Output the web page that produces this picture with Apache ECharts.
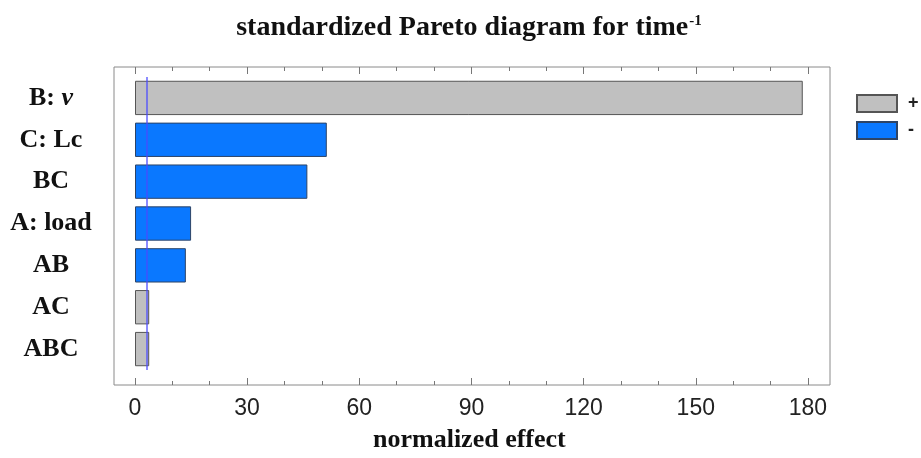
<!DOCTYPE html>
<html>
<head>
<meta charset="utf-8">
<script src="https://cdn.jsdelivr.net/npm/echarts@6/dist/echarts.min.js"></script>
<style>html,body{margin:0;padding:0;background:#fff}#c{width:921px;height:458px}</style>
</head>
<body>
<div id="c"></div>
<script>
// ---- data ----
const categories = ['B: v', 'C: Lc', 'BC', 'A: load', 'AB', 'AC', 'ABC'];
const effects = [178.6, 51.3, 46.1, 15.0, 13.6, 3.8, 3.8];
const signs = ['+', '-', '-', '-', '-', '+', '+'];
const referenceLine = 3.1;
const majorTicks = [0, 30, 60, 90, 120, 150, 180];
const minorTicks = [10, 20, 40, 50, 70, 80, 100, 110, 130, 140, 160, 170];
const titleText = 'standardized Pareto diagram for time';
const titleSup = '-1';
const xAxisName = 'normalized effect';

const posData = effects.map((v, i) => signs[i] === '+' ? v : null);
const negData = effects.map((v, i) => signs[i] === '-' ? v : null);

const serif = "'Liberation Serif', 'Times New Roman', serif";
const sans = "'Liberation Sans', Arial, sans-serif";
const tickColor = '#777';

// frame axis range (frame extends a bit beyond 0..180)
const frameMin = -5.6, frameMax = 185.9;

const chart = echarts.init(document.getElementById('c'), null, {renderer: 'canvas'});
chart.setOption({
  animation: false,
  backgroundColor: '#fff',
  title: {
    text: '{a|' + titleText + '}{s|' + titleSup + '}',
    left: 464, top: 9, textAlign: 'center',
    textStyle: {
      rich: {
        a: {fontFamily: serif, fontWeight: 'bold', fontSize: 28, color: '#111'},
        s: {fontFamily: serif, fontWeight: 'bold', fontSize: 15, color: '#111', verticalAlign: 'top', padding: [0, 0, 12, 1]}
      }
    }
  },
  legend: {
    orient: 'vertical', left: 856, top: 94, padding: 0,
    itemWidth: 40, itemHeight: 17, itemGap: 8,
    icon: 'rect',
    data: ['+', '-'],
    textStyle: {fontFamily: sans, fontSize: 18, fontWeight: 'bold', color: '#222', padding: [0, 0, 0, 6]}
  },
  graphic: [{
    type: 'text', left: 474 - 101, top: 427,
    style: {text: xAxisName, font: 'bold 26px ' + serif, fill: '#111'}
  }],
  grid: [
    {left: 114, right: 91, top: 67, bottom: 73, show: true, borderColor: '#8a8a8a', borderWidth: 1, backgroundColor: 'transparent'},
    {left: 135, right: 113, top: 77, bottom: 88}
  ],
  xAxis: [
    {gridIndex: 0, type: 'value', position: 'bottom', min: frameMin, max: frameMax,
      axisLine: {show: false}, splitLine: {show: false},
      axisTick: {show: true, inside: true, length: 7, customValues: majorTicks, lineStyle: {color: tickColor}},
      axisLabel: {show: true, customValues: majorTicks, margin: 12, fontFamily: sans, fontSize: 23, color: '#222'}},
    {gridIndex: 0, type: 'value', position: 'bottom', min: frameMin, max: frameMax,
      axisLine: {show: false}, splitLine: {show: false},
      axisTick: {show: true, inside: true, length: 4, customValues: minorTicks, lineStyle: {color: tickColor}},
      axisLabel: {show: false}},
    {gridIndex: 0, type: 'value', position: 'top', min: frameMin, max: frameMax,
      axisLine: {show: false}, splitLine: {show: false},
      axisTick: {show: true, inside: true, length: 7, customValues: majorTicks, lineStyle: {color: tickColor}},
      axisLabel: {show: false}},
    {gridIndex: 0, type: 'value', position: 'top', min: frameMin, max: frameMax,
      axisLine: {show: false}, splitLine: {show: false},
      axisTick: {show: true, inside: true, length: 4, customValues: minorTicks, lineStyle: {color: tickColor}},
      axisLabel: {show: false}},
    {gridIndex: 1, type: 'value', min: 0, max: 180, show: false}
  ],
  yAxis: [
    {gridIndex: 0, type: 'value', min: 0, max: 1, show: false},
    {gridIndex: 1, type: 'category', data: categories, inverse: true,
      axisLine: {show: false}, axisTick: {show: false}, splitLine: {show: false},
      axisLabel: {
        align: 'center', margin: 84,
        fontFamily: serif, fontWeight: 'bold', fontSize: 26, color: '#111',
        formatter: function (v) {
          if (v === 'B: v') return '{b|B: }{i|v}';
          return v;
        },
        rich: {
          b: {fontFamily: serif, fontWeight: 'bold', fontSize: 26, color: '#111'},
          i: {fontFamily: serif, fontWeight: 'bold', fontStyle: 'italic', fontSize: 26, color: '#111'}
        }
      }}
  ],
  series: [
    {name: '+', type: 'bar', xAxisIndex: 4, yAxisIndex: 1, data: posData,
      barCategoryGap: '18%', barGap: '-100%',
      itemStyle: {color: '#c0c0c0', borderColor: '#555', borderWidth: 1},
      markLine: {
        silent: true, symbol: 'none', label: {show: false},
        lineStyle: {color: '#4a4aff', width: 1.5, type: 'solid', opacity: 0.85},
        data: [{xAxis: referenceLine}]
      },
      z: 2},
    {name: '-', type: 'bar', xAxisIndex: 4, yAxisIndex: 1, data: negData,
      barCategoryGap: '18%', barGap: '-100%',
      itemStyle: {color: '#0a78ff', borderColor: '#2d4466', borderWidth: 1},
      z: 2}
  ]
});
</script>
</body>
</html>
